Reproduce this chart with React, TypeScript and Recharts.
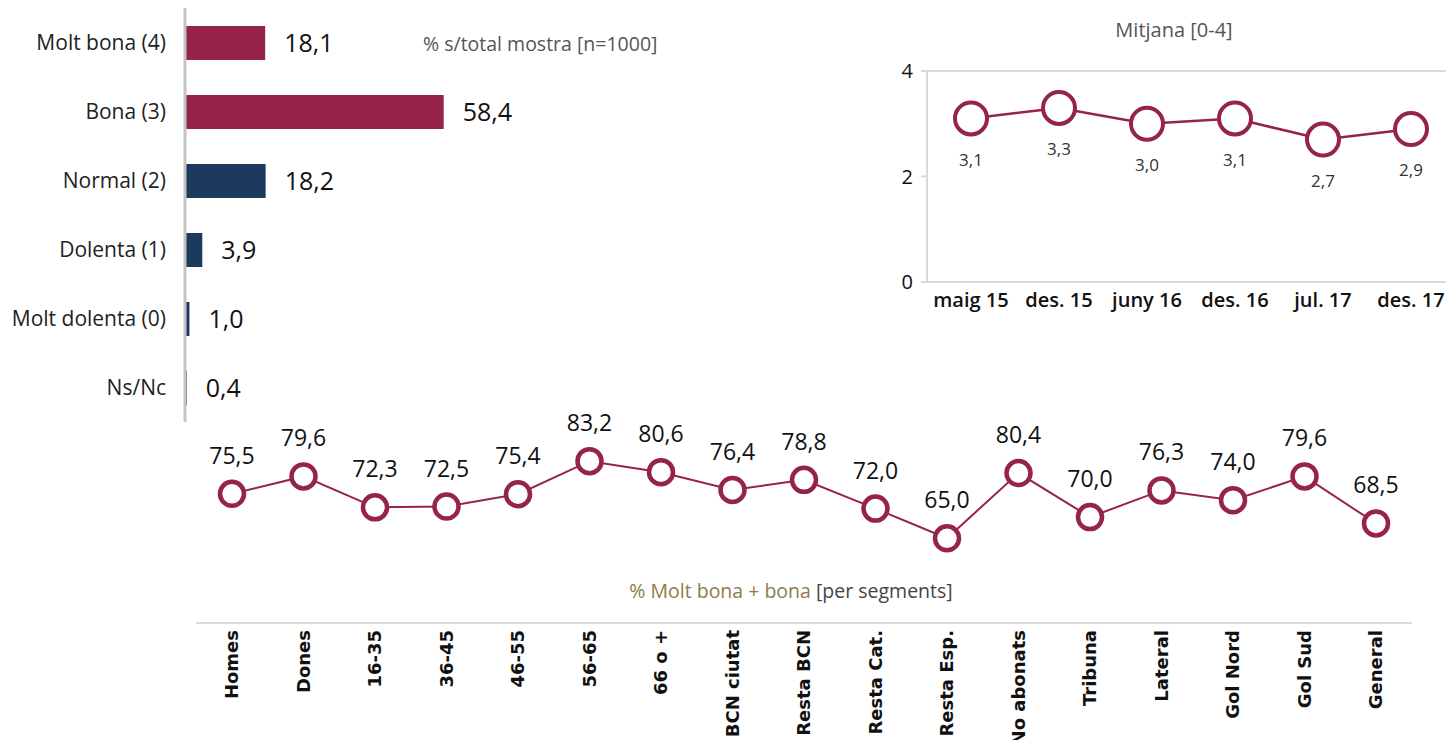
import React from "react";
import {
  Bar, BarChart, Cell, LabelList, Line, LineChart, ReferenceLine, XAxis, YAxis,
} from "recharts";

const ratingLabels = ["Molt bona (4)", "Bona (3)", "Normal (2)", "Dolenta (1)", "Molt dolenta (0)", "Ns/Nc"];
const ratingValues = [18.1, 58.4, 18.2, 3.9, 1.0, 0.4];

const waveLabels = ["maig 15", "des. 15", "juny 16", "des. 16", "jul. 17", "des. 17"];
const waveMeans = [3.1, 3.3, 3.0, 3.1, 2.7, 2.9];

const segmentLabels = [
  "Homes", "Dones", "16-35", "36-45", "46-55", "56-65", "66 o +", "BCN ciutat", "Resta BCN",
  "Resta Cat.", "Resta Esp.", "No abonats", "Tribuna", "Lateral", "Gol Nord", "Gol Sud", "General",
];
const segmentValues = [75.5, 79.6, 72.3, 72.5, 75.4, 83.2, 80.6, 76.4, 78.8, 72.0, 65.0, 80.4, 70.0, 76.3, 74.0, 79.6, 68.5];

const CRIMSON = "#96234a";
const NAVY = "#1b3a5e";
const AXIS = "#d9d9d9";
const FONT = "'Open Sans', sans-serif";

const barColors = [CRIMSON, CRIMSON, NAVY, NAVY, NAVY, NAVY];

const ratingData = ratingLabels.map((name, i) => ({ name, value: ratingValues[i] }));
const waveData = waveLabels.map((name, i) => ({ name, value: waveMeans[i] }));
const segmentData = segmentLabels.map((name, i) => ({ name, value: segmentValues[i] }));

const comma = (v: any) => Number(v).toFixed(1).replace(".", ",");

function SegmentTick({ x, y, payload }: any) {
  const ty = y - 1;
  return (
    <text
      x={x}
      y={ty}
      transform={`rotate(-90, ${x}, ${ty})`}
      textAnchor="end"
      dy="0.36em"
      fontSize={18}
      fontWeight={600}
      fill="#111"
      fontFamily="'DejaVu Sans', sans-serif"
    >
      {payload.value}
    </text>
  );
}

export default function App() {
  return (
    <div style={{ position: "absolute", left: 0, top: 0, width: 1446, height: 740, overflow: "hidden", fontFamily: FONT, background: "#fff" }}>
      {/* distribution bars */}
      <div style={{ position: "absolute", left: 0, top: 0 }}>
        <BarChart width={640} height={430} data={ratingData} layout="vertical"
          margin={{ top: 8, right: 12, left: 0, bottom: 8 }} barCategoryGap={0}>
          <XAxis type="number" domain={[0, 100]} hide />
          <YAxis type="category" dataKey="name" width={185} axisLine={{ stroke: "#c4c4c4", strokeWidth: 3 }}
            tickLine={false} tickMargin={13} tick={{ fontSize: 21, fill: "#222", fontFamily: FONT }} />
          <Bar dataKey="value" barSize={34} isAnimationActive={false}>
            {ratingData.map((d, i) => <Cell key={d.name} fill={barColors[i]} />)}
            <LabelList dataKey="value" position="right" offset={19} formatter={comma}
              style={{ fontSize: 25, fill: "#111", fontWeight: 500, fontFamily: FONT }} />
          </Bar>
        </BarChart>
      </div>
      <div style={{ position: "absolute", left: 423, top: 30, fontSize: 19.5, color: "#555", whiteSpace: "nowrap" }}>
        % s/total mostra [n=1000]
      </div>

      {/* mean evolution */}
      <div style={{ position: "absolute", left: 1174, top: 16, transform: "translateX(-50%)", fontSize: 20, color: "#555", whiteSpace: "nowrap" }}>
        Mitjana [0-4]
      </div>
      <div style={{ position: "absolute", left: 880, top: 50 }}>
        <LineChart width={590} height={270} data={waveData} margin={{ top: 21, right: 15, left: 0, bottom: 8 }}>
          <ReferenceLine y={4} stroke={AXIS} strokeWidth={2} />
          <XAxis dataKey="name" height={30} axisLine={{ stroke: AXIS, strokeWidth: 2 }} tickLine={false} tickMargin={5}
            padding={{ left: 44, right: 44 }}
            tick={{ fontSize: 20, fill: "#111", fontWeight: 600, fontFamily: FONT }} interval={0} />
          <YAxis domain={[0, 4]} ticks={[0, 2, 4]} width={47} axisLine={{ stroke: AXIS, strokeWidth: 2 }}
            tickLine={{ stroke: AXIS, strokeWidth: 2 }} tickSize={6} tickMargin={8}
            tick={{ fontSize: 20, fill: "#111", fontFamily: FONT }} />
          <Line dataKey="value" stroke={CRIMSON} strokeWidth={2.5} isAnimationActive={false}
            dot={{ r: 16, fill: "#fff", stroke: CRIMSON, strokeWidth: 4 }} activeDot={false}>
            <LabelList dataKey="value" position="bottom" offset={35} formatter={comma}
              style={{ fontSize: 17, fill: "#333", fontFamily: FONT }} />
          </Line>
        </LineChart>
      </div>

      {/* segments */}
      <div style={{ position: "absolute", left: 0, top: 380 }}>
        <LineChart width={1446} height={380} data={segmentData} margin={{ top: 10, right: 34, left: 196, bottom: 0 }}>
          <YAxis domain={[45, 100]} allowDataOverflow hide />
          <XAxis dataKey="name" height={137} interval={0} axisLine={{ stroke: AXIS, strokeWidth: 2 }} tickLine={false}
            padding={{ left: 36, right: 36 }} tick={<SegmentTick />} />
          <Line dataKey="value" stroke={CRIMSON} strokeWidth={2} isAnimationActive={false}
            dot={{ r: 12, fill: "#fff", stroke: CRIMSON, strokeWidth: 4.5 }} activeDot={false}>
            <LabelList dataKey="value" position="top" offset={30} formatter={comma}
              style={{ fontSize: 23, fill: "#111", fontFamily: FONT }} />
          </Line>
        </LineChart>
      </div>
      <div style={{ position: "absolute", left: 791, top: 577, transform: "translateX(-50%)", fontSize: 19.5, whiteSpace: "nowrap" }}>
        <span style={{ color: "#8c7d48" }}>% Molt bona + bona</span>{" "}
        <span style={{ color: "#444" }}>[per segments]</span>
      </div>
    </div>
  );
}
